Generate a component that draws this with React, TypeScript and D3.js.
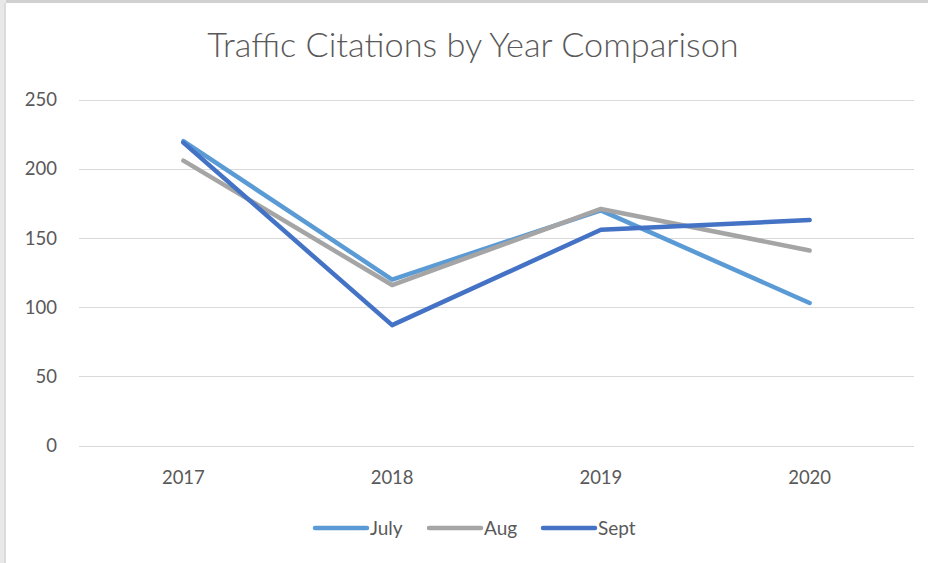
import React from "react";
import * as d3 from "d3";

const years = ["2017", "2018", "2019", "2020"];
const july = [220, 120, 170, 103];
const aug = [206, 116, 171, 141];
const sept = [219, 87, 156, 163];
const seriesNames = ["July", "Aug", "Sept"];
const seriesColors = ["#5B9BD5", "#A5A5A5", "#4472C4"];
const yTicks = [0, 50, 100, 150, 200, 250];

const W = 928;
const H = 563;
const FONT = "Lato, 'Open Sans', sans-serif";

export default function App() {
  const x = d3.scaleBand<string>().domain(years).range([79, 914]);
  const y = d3.scaleLinear().domain([0, 250]).range([445.5, 99.7]);
  const data = [july, aug, sept];
  const line = d3
    .line<number>()
    .x((_, i) => (x(years[i]) as number) + x.bandwidth() / 2)
    .y((d) => y(d));

  const legendX = [313, 427, 541];

  return (
    <svg
      width={W}
      height={H}
      style={{ position: "absolute", left: 0, top: 0, display: "block" }}
    >
      <rect x={0} y={0} width={W} height={H} fill="#ffffff" />
      <rect x={0} y={0} width={W} height={3} fill="#d0d0d0" />
      <rect x={0} y={0} width={6} height={H} fill="#e8e8e8" />
      <line x1={5} x2={5} y1={3} y2={H} stroke="#cfcfcf" strokeWidth={1} />
      <text
        x={473}
        y={57}
        textAnchor="middle"
        fontFamily={FONT}
        fontSize={34.3}
        fontWeight={300}
        fill="#595959"
      >
        Traffic Citations by Year Comparison
      </text>
      {yTicks.map((t) => (
        <g key={t}>
          <line
            x1={79}
            x2={914}
            y1={Math.round(y(t)) + 0.5}
            y2={Math.round(y(t)) + 0.5}
            stroke="#d9d9d9"
            strokeWidth={1}
          />
          <text
            x={57}
            y={y(t) + 6.5}
            textAnchor="end"
            fontFamily={FONT}
            fontSize={18.5}
            fill="#595959"
          >
            {t}
          </text>
        </g>
      ))}
      {years.map((yr) => (
        <text
          key={yr}
          x={(x(yr) as number) + x.bandwidth() / 2}
          y={484}
          textAnchor="middle"
          fontFamily={FONT}
          fontSize={18.5}
          fill="#595959"
        >
          {yr}
        </text>
      ))}
      {data.map((s, i) => (
        <path
          key={seriesNames[i]}
          d={line(s) || ""}
          fill="none"
          stroke={seriesColors[i]}
          strokeWidth={4.5}
          strokeLinecap="round"
          strokeLinejoin="round"
        />
      ))}
      {seriesNames.map((n, i) => (
        <g key={n}>
          <line
            x1={legendX[i] + 2}
            x2={legendX[i] + 54}
            y1={528}
            y2={528}
            stroke={seriesColors[i]}
            strokeWidth={4.5}
            strokeLinecap="round"
          />
          <text
            x={legendX[i] + 57}
            y={535}
            fontFamily={FONT}
            fontSize={19}
            fill="#595959"
          >
            {n}
          </text>
        </g>
      ))}
    </svg>
  );
}
